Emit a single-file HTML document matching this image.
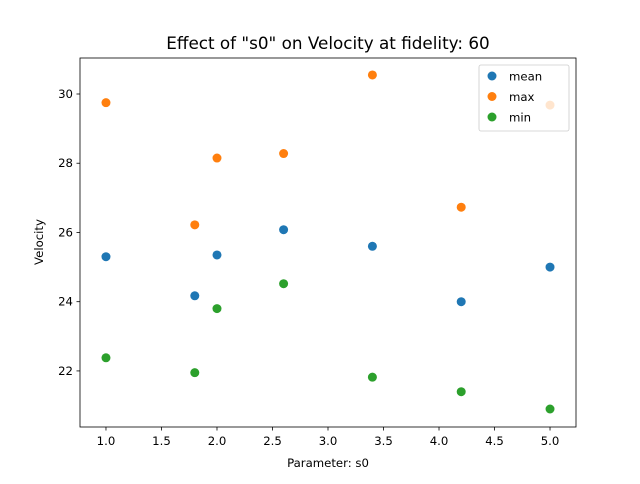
<!DOCTYPE html>
<html><head><meta charset="utf-8"><style>
body{margin:0;background:#fff;font-family:"DejaVu Sans","Liberation Sans",sans-serif;}
</style></head><body>
<svg id="chart" width="640" height="480" xmlns="http://www.w3.org/2000/svg"></svg>
<script>
const xs = [1.0, 1.8, 2.0, 2.6, 3.4, 4.2, 5.0];
const meanVals = [25.3, 24.17, 25.35, 26.08, 25.6, 24.0, 25.0];
const maxVals = [29.75, 26.22, 28.15, 28.28, 30.55, 26.73, 29.68];
const minVals = [22.38, 21.95, 23.8, 24.52, 21.82, 21.4, 20.9];
const xTicks = [1.0, 1.5, 2.0, 2.5, 3.0, 3.5, 4.0, 4.5, 5.0];
const yTicks = [22, 24, 26, 28, 30];
const seriesNames = ["mean", "max", "min"];
const colors = ["#1f77b4", "#ff7f0e", "#2ca02c"];

const L=80,R=576,T=58,B=427;
const xMin=0.766,xMax=5.234,yMin=20.38,yMax=31.04;
const sx=v=>L+(v-xMin)/(xMax-xMin)*(R-L);
const sy=v=>B-(v-yMin)/(yMax-yMin)*(B-T);
const svg=document.getElementById('chart');
const NS='http://www.w3.org/2000/svg';
function mk(tag,attrs,parent){const e=document.createElementNS(NS,tag);for(const k in attrs)e.setAttribute(k,attrs[k]);(parent||svg).appendChild(e);return e;}

const title=mk('text',{x:328,y:49,'text-anchor':'middle','font-size':'16.8'});


title.textContent='Effect of "s0" on Velocity at fidelity: 60';

const frame=mk('rect',{x:L,y:T,width:R-L,height:B-T,fill:'none',stroke:'#000','stroke-width':0.8});



xTicks.forEach(t=>{
  const x=sx(t);
  const tk=mk('line',{x1:x,x2:x,y1:B,y2:B+3.5,stroke:'#000','stroke-width':0.8});
  
  
  const lb=mk('text',{x:x,y:B+18,'text-anchor':'middle','font-size':'11.7'});
  
  
  lb.textContent=t.toFixed(1);
});
yTicks.forEach(t=>{
  const y=sy(t);
  const tk=mk('line',{x1:L-3.5,x2:L,y1:y,y2:y,stroke:'#000','stroke-width':0.8});
  
  
  const lb=mk('text',{x:L-7,y:y+4,'text-anchor':'end','font-size':'11.7'});
  
  
  lb.textContent=String(t);
});
const xt=mk('text',{x:328,y:467,'text-anchor':'middle','font-size':'11.7'});


xt.textContent='Parameter: s0';
const yt=mk('text',{x:43,y:242,'text-anchor':'middle','font-size':'11.7',transform:'rotate(-90 43 242)'});


yt.textContent='Velocity';

[meanVals,maxVals,minVals].forEach((vals,si)=>{
  vals.forEach((v,i)=>{
    const c=mk('circle',{cx:sx(xs[i]),cy:sy(v),r:4.5,fill:colors[si]});
    
    
  });
});

const lg=mk('g',{});


mk('rect',{x:479,y:65,width:90,height:66,rx:2,fill:'#fff','fill-opacity':0.8,stroke:'#ccc','stroke-width':0.8},lg);
seriesNames.forEach((n,i)=>{
  const y=76+i*20.5;
  const m=mk('circle',{cx:492,cy:y,r:4.5,fill:colors[i]},lg);
  
  
  const t=mk('text',{x:509,y:y+4.5,'font-size':'11.7'},lg);
  
  
  t.textContent=n;
});
</script>
</body></html>
